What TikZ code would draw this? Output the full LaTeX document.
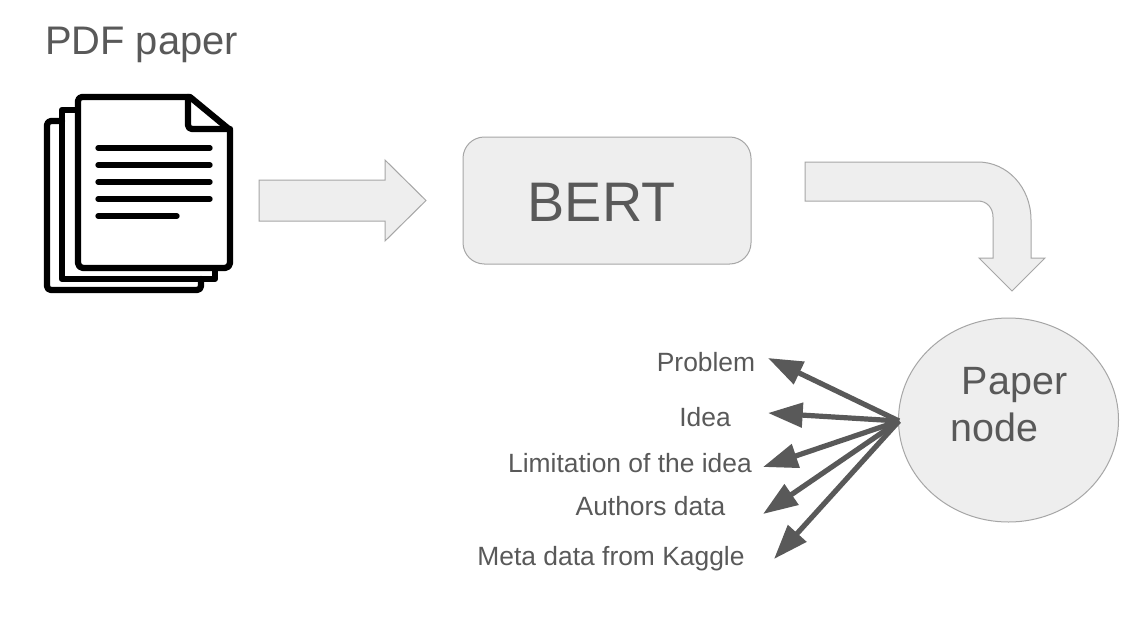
\documentclass[tikz,border=0pt]{standalone}
\usepackage{fontspec}
\setmainfont{Liberation Sans}
\usetikzlibrary{arrows.meta,shapes.geometric}
\definecolor{txt}{HTML}{595959}
\definecolor{boxfill}{HTML}{EEEEEE}
\definecolor{boxline}{HTML}{A6A6A6}
\tikzset{
  blockshape/.style={draw=boxline,fill=boxfill,line width=0.75pt,line join=miter},
  pageline/.style={draw=black,line width=4.7pt,line join=round,line cap=round},
  textline/.style={draw=black,line width=4pt,line cap=round},
  smalllabel/.style={text=txt,font=\fontsize{19.8}{24}\selectfont,inner sep=0pt},
  fanarrow/.style={draw=txt,line width=3.9pt,-{Triangle[length=26pt,width=18pt]}},
}
\begin{document}
\begin{tikzpicture}[x=0.75pt,y=-0.75pt]
\useasboundingbox[fill=white] (0,0) rectangle (1127,618);

\node[text=txt,font=\fontsize{29.9}{34}\selectfont,inner sep=0pt] (title) at (141.5,45) {PDF paper};

% document icon
\draw[pageline] (78,110) -- (62,110) -- (62,279) -- (215,279) -- (215,268);
\draw[pageline,rounded corners=3pt] (62,121) -- (47,121) -- (47,290) -- (201,290) -- (201,279);
\draw[pageline,fill=white] (82,97) -- (190,97) -- (230,130) -- (230,263) arc (0:90:5) -- (83,268) arc (90:180:5) -- (78,101) arc (180:270:4) -- cycle;
\draw[pageline,rounded corners=3pt] (188,97) -- (188,129) -- (230,129);
\foreach \yy in {148,165,182,199}{\draw[textline] (98,\yy) -- (210,\yy);}
\draw[textline] (98,216) -- (177,216);

% block arrow to BERT
\draw[blockshape] (259,180) -- (385,180) -- (385,160) -- (426,200.5) -- (385,241) -- (385,221) -- (259,221) -- cycle;

\node[blockshape,rounded corners=16pt,minimum width=216pt,minimum height=95.25pt,inner sep=0pt] (bert) at (607,200.5) {};
\node[text=txt,font=\fontsize{41.8}{48}\selectfont,inner sep=0pt] (berttext) at (601.5,202.5) {BERT};

% bent arrow
\draw[blockshape] (805,162) -- (978,162) .. controls (1007,162) and (1031,187) .. (1031,220) -- (1031,258) -- (1045,258) -- (1012,291) -- (979,258) -- (993,258) -- (993,217) .. controls (993,208) and (987,201) .. (978,201) -- (805,201) -- cycle;

% paper node
\node[blockshape,ellipse,minimum width=165pt,minimum height=153pt,inner sep=0pt] (paper) at (1008.5,420) {};
\node[text=txt,font=\fontsize{29.6}{35.25}\selectfont,align=left,inner sep=0pt] (papertext) at (1009,405) {\hspace*{8.25pt}Paper\\node};

% labels
\node[smalllabel] (problem) at (706,362) {Problem};
\node[smalllabel] (idea) at (705,417) {Idea};
\node[smalllabel] (limit) at (630,463) {Limitation of the idea};
\node[smalllabel] (authors) at (650.5,506) {Authors data};
\node[smalllabel] (meta) at (611,559) {Meta data from Kaggle};

% fan of arrows
\coordinate (hub) at (899,421);
\coordinate (tipa) at (768,358);
\coordinate (tipb) at (768,413);
\coordinate (tipc) at (763,467);
\coordinate (tipd) at (763,514);
\coordinate (tipe) at (774,559);
\foreach \t in {tipa,tipb,tipc,tipd,tipe}{\draw[fanarrow] (hub) -- (\t);}
\end{tikzpicture}
\end{document}
